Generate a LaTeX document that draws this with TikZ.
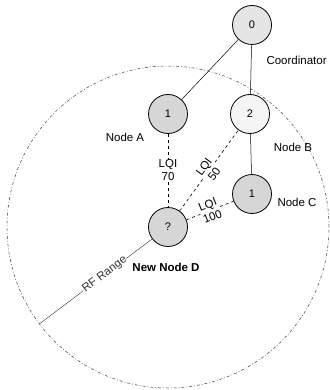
\documentclass[tikz,border=0pt]{standalone}
\usepackage{fontspec}
\setsansfont{Liberation Sans}
\usetikzlibrary{calc}

\tikzset{
  mote/.style={circle,draw,line width=0.8pt,minimum size=39pt,inner sep=0pt,
    font=\sffamily\fontsize{11}{13}\selectfont},
  tag/.style={font=\sffamily\fontsize{11.5}{13}\selectfont},
  lqi/.style={dashed,line width=0.6pt},
  lqilabel/.style={tag,fill=white,inner sep=0.5pt,align=center},
  rfcircle/.style={line width=0.5pt,black!75,dash pattern=on 3pt off 2pt on 0.8pt off 2pt}
}

\begin{document}
\begin{tikzpicture}[x=1pt,y=-1pt]
    \useasboundingbox (0,0) rectangle (329,390);

    \draw (252,25) node[mote,fill=gray!20] (N0) {0};
    \draw (168,114) node[mote,fill=gray!32] (NA) {1};
    \draw (250,114) node[mote,fill=gray!8] (NB) {2};
    \draw (252,194) node[mote,fill=gray!32] (NC) {1};
    \draw (168,227) node[mote,fill=gray!32] (ND) {?};

    % RF range of the new node
    \draw[rfcircle] (ND.center) circle (161pt);
    \coordinate (rf) at ($(ND.center)+(217:161pt)$);
    \draw[line width=0.4pt,black!80] (ND) -- node[pos=0.42,sloped,tag,fill=white,inner sep=0.5pt] {RF Range} (rf);

    \draw[line width=0.5pt] (N0) -- (NA);
    \draw[line width=0.5pt] (N0) -- (NB);
    \draw[line width=0.5pt] (NB) -- (NC);

    \draw[lqi] (NA) -- node[lqilabel] {LQI\\70} (ND);
    \draw[lqi] (ND) -- node[lqilabel,sloped,pos=0.5] {LQI\\50} (NB);
    \draw[lqi] (ND) -- node[lqilabel,sloped] {LQI\\100} (NC);

    \node[tag,anchor=west] (coord) at (263,60) {Coordinator};
    \node[tag] (labA) at (125,137) {Node A};
    \node[tag] (labB) at (293,147) {Node B};
    \node[tag] (labC) at (297,202) {Node C};
    \node[tag,font=\sffamily\bfseries\fontsize{11.5}{13}\selectfont] (labD) at (166,267) {New Node D};
\end{tikzpicture}
\end{document}
